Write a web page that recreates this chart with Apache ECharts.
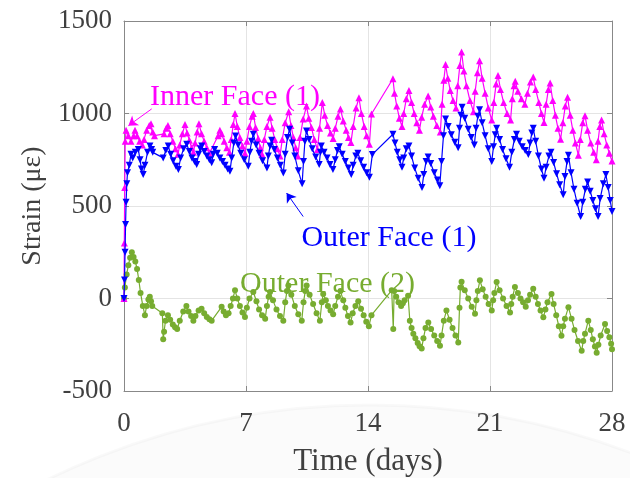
<!DOCTYPE html>
<html>
<head>
<meta charset="utf-8">
<script src="https://cdn.jsdelivr.net/npm/echarts@6/dist/echarts.min.js"></script>
<style>
  html, body { margin: 0; padding: 0; background: #fff; }
  #chart { width: 630px; height: 478px; }
</style>
</head>
<body>
<div id="chart"></div>
<script>
// Axis ticks
const xTicks = [0, 7, 14, 21, 28];
const yTicks = [-500, 0, 500, 1000, 1500];

// Series names
const seriesNames = ['Inner Face (1)', 'Outer Face (1)', 'Outer Face (2)'];

// [time (days), strain (με)]
const innerFace1 = [
  [0,0],[0.02,300],[0.04,600],[0.07,850],[0.12,910],[0.25,880],[0.4,850],[0.55,880],[0.63,910],[0.75,880],
  [0.9,850],[1.05,830],[1.15,860],[1.3,910],[1.45,935],[1.55,945],[1.65,900],[1.75,880],
  [2.3,890],[2.42,920],[2.52,935],[2.65,890],[2.8,850],[2.95,810],[3.1,780],[3.2,830],[3.35,890],[3.5,940],
  [3.62,895],[3.75,855],[3.88,815],[3.98,790],[4.08,840],[4.2,900],[4.3,945],[4.45,890],[4.6,850],[4.75,815],[4.9,785],
  [5.4,880],[5.5,910],[5.6,890],[5.75,850],[5.9,815],[6.05,790],[6.15,860],[6.27,940],[6.37,1000],[6.5,930],
  [6.65,870],[6.8,825],[6.94,785],[7.05,850],[7.2,930],[7.35,985],[7.42,1000],[7.55,925],[7.7,865],[7.82,815],
  [7.92,780],[8.05,860],[8.2,930],[8.38,980],[8.5,920],[8.65,860],[8.8,810],[8.95,770],[9.08,860],[9.25,950],
  [9.45,1010],[9.58,935],[9.72,870],[9.85,815],[9.97,770],[10.1,870],[10.28,970],[10.47,1040],[10.6,975],[10.75,925],
  [10.92,860],[11.1,805],[11.22,920],[11.38,1060],[11.52,990],[11.68,935],[11.85,895],[12.0,865],[12.12,920],[12.28,985],
  [12.42,1025],[12.58,960],[12.75,910],[12.88,870],[13.02,843],[13.15,930],[13.32,1030],[13.48,1085],[13.62,1000],[13.78,930],
  [13.92,880],[14.08,834],[14.2,997],
  [15.43,1188],[15.52,1110],[15.65,1040],[15.8,975],[15.95,930],[16.05,1000],[16.2,1080],[16.35,1124],[16.5,1060],[16.65,1000],
  [16.8,950],[16.95,910],[17.08,980],[17.25,1050],[17.45,1095],[17.6,1035],[17.75,985],[17.95,935],[18.15,900],[18.25,1050],
  [18.35,1180],[18.45,1265],[18.58,1190],[18.72,1125],[18.88,1070],[19.05,1030],[19.15,1150],[19.27,1260],[19.37,1333],[19.5,1230],
  [19.65,1150],[19.85,1070],[20.05,1010],[20.15,1120],[20.28,1220],[20.4,1285],[20.55,1190],[20.72,1110],[20.9,1030],[21.1,965],
  [21.22,1060],[21.35,1160],[21.46,1206],[21.6,1130],[21.78,1060],[21.98,1000],[22.18,965],[22.28,1080],[22.38,1150],[22.45,1175],
  [22.6,1120],[22.8,1080],[23.0,1050],[23.15,1110],[23.32,1170],[23.48,1197],[23.62,1130],[23.8,1060],[23.95,1000],[24.1,952],
  [24.22,1050],[24.35,1130],[24.45,1165],[24.6,1070],[24.75,990],[24.9,920],[25.05,861],[25.18,950],[25.32,1040],[25.45,1088],
  [25.6,990],[25.75,910],[25.9,840],[26.07,775],[26.18,860],[26.32,950],[26.45,988],[26.6,910],[26.78,840],[26.95,790],
  [27.1,750],[27.2,850],[27.3,930],[27.4,965],[27.55,890],[27.7,830],[27.85,785],[28.0,743]
];

const outerFace1 = [
  [0,0],[0.03,100],[0.06,250],[0.09,400],[0.12,520],[0.16,620],[0.2,680],[0.3,720],[0.4,780],[0.5,760],
  [0.65,790],[0.82,806],[0.92,750],[1.0,700],[1.1,670],[1.2,720],[1.35,790],[1.49,824],[1.58,805],[1.65,790],
  [2.25,760],[2.4,800],[2.54,824],[2.68,780],[2.82,745],[2.98,715],[3.12,697],[3.25,760],[3.42,810],[3.6,834],
  [3.75,795],[3.9,760],[4.05,740],[4.17,725],[4.28,780],[4.38,810],[4.46,824],[4.6,795],[4.75,770],[4.9,750],
  [5.03,734],[5.12,780],[5.2,806],[5.35,785],[5.5,760],[5.65,740],[5.8,720],[5.95,700],[6.08,688],[6.18,760],
  [6.3,840],[6.4,879],[6.55,830],[6.7,785],[6.9,750],[7.13,715],[7.22,790],[7.32,850],[7.42,888],[7.58,830],
  [7.75,785],[7.95,745],[8.2,706],[8.28,770],[8.38,825],[8.47,855],[8.62,805],[8.8,760],[8.97,720],[9.14,679],
  [9.25,780],[9.38,870],[9.5,915],[9.65,840],[9.8,770],[10.0,690],[10.22,620],[10.3,740],[10.38,850],[10.47,906],
  [10.62,860],[10.8,810],[11.0,765],[11.2,725],[11.27,790],[11.32,824],[11.48,790],[11.65,760],[11.82,725],[11.99,697],
  [12.12,750],[12.25,800],[12.35,820],[12.52,780],[12.7,740],[12.87,705],[13.04,670],[13.15,720],[13.3,770],[13.42,785],
  [13.58,745],[13.75,710],[13.92,680],[14.08,655],[14.25,779],
  [15.43,888],[15.55,840],[15.68,790],[15.82,750],[15.95,710],[16.05,760],[16.2,810],[16.35,825],[16.5,770],[16.68,705],
  [16.88,650],[17.1,600],[17.2,670],[17.33,740],[17.45,765],[17.6,730],[17.8,680],[17.98,640],[18.12,610],[18.22,740],
  [18.33,880],[18.45,970],[18.6,930],[18.78,885],[18.98,845],[19.17,815],[19.25,920],[19.33,990],[19.4,1034],[19.55,975],
  [19.75,915],[19.92,870],[20.1,830],[20.2,920],[20.3,985],[20.4,1020],[20.55,950],[20.72,880],[20.9,810],[21.1,740],
  [21.2,820],[21.3,885],[21.38,920],[21.55,860],[21.72,805],[21.92,755],[22.12,710],[22.25,790],[22.4,860],[22.52,888],
  [22.68,850],[22.85,820],[23.02,800],[23.2,779],[23.3,840],[23.4,895],[23.48,920],[23.62,850],[23.78,770],[23.95,700],
  [24.1,650],[24.22,710],[24.38,770],[24.5,790],[24.65,735],[24.82,675],[25.0,615],[25.2,561],[25.3,660],[25.42,740],
  [25.5,775],[25.65,680],[25.82,590],[26.0,515],[26.2,443],[26.32,520],[26.47,590],[26.6,630],[26.75,580],[26.9,530],
  [27.05,485],[27.2,443],[27.32,540],[27.5,620],[27.65,670],[27.78,600],[27.9,530],[28.0,470]
];

const outerFace2 = [
  [0,0],[0.05,60],[0.15,130],[0.25,180],[0.35,220],[0.45,250],[0.55,225],[0.65,200],[0.75,160],[0.85,100],
  [0.95,30],[1.08,-40],[1.2,-90],[1.3,-40],[1.4,-5],[1.48,10],[1.55,-15],[1.62,-40],
  [2.2,-80],[2.25,-220],[2.3,-180],[2.38,-120],[2.52,-90],[2.65,-115],[2.8,-140],[2.93,-155],[3.05,-165],[3.2,-120],
  [3.4,-70],[3.58,-40],[3.7,-70],[3.85,-95],[3.98,-120],[4.1,-95],[4.28,-65],[4.45,-55],[4.6,-80],[4.75,-100],
  [4.9,-112],[5.03,-120],
  [5.6,-45],[5.72,-70],[5.85,-90],[6.0,-80],[6.12,-40],[6.25,0],[6.37,45],[6.5,0],[6.65,-40],[6.8,-75],
  [6.94,-100],[7.05,-50],[7.2,0],[7.42,35],[7.6,-15],[7.75,-60],[7.92,-90],[8.1,-110],[8.2,-40],[8.3,10],
  [8.38,35],[8.55,-10],[8.75,-60],[8.95,-95],[9.14,-120],[9.25,-20],[9.35,40],[9.43,70],[9.6,20],[9.8,-40],
  [10.0,-85],[10.2,-120],[10.3,-20],[10.4,40],[10.48,70],[10.65,20],[10.85,-30],[11.05,-80],[11.24,-120],[11.35,-20],
  [11.43,25],[11.58,-10],[11.7,-40],[11.85,-65],[12.0,-85],[12.12,-40],[12.28,10],[12.42,40],[12.58,-10],[12.7,-50],
  [12.85,-95],[13.0,-130],[13.12,-80],[13.28,-40],[13.44,-15],[13.6,-55],[13.75,-90],[13.9,-125],[14.05,-150],[14.2,-90],
  [15.36,44],[15.45,-165],[15.5,40],[15.62,10],[15.75,-20],[15.9,-40],[16.0,-25],[16.1,-10],[16.3,15],[16.4,-120],
  [16.5,-160],[16.6,-190],[16.72,-215],[16.85,-240],[16.96,-258],[17.08,-270],[17.18,-215],[17.3,-160],[17.46,-130],[17.62,-165],
  [17.8,-200],[17.97,-230],[18.13,-256],[18.22,-200],[18.35,-120],[18.5,-65],[18.68,-115],[18.85,-160],[19.02,-200],[19.18,-238],
  [19.25,-50],[19.3,60],[19.37,90],[19.55,45],[19.75,0],[19.95,-45],[20.14,-83],[20.22,-10],[20.3,40],[20.42,98],
  [20.58,50],[20.75,10],[20.92,-30],[21.1,-65],[21.18,-10],[21.25,30],[21.38,89],[21.55,45],[21.75,0],[21.95,-40],
  [22.15,-75],[22.22,-30],[22.3,10],[22.43,62],[22.6,30],[22.75,0],[22.9,-20],[23.05,-45],[23.18,-10],[23.3,20],
  [23.48,53],[23.62,10],[23.75,-30],[23.9,-65],[24.06,-102],[24.18,-60],[24.3,-20],[24.53,25],[24.65,-30],[24.8,-90],
  [24.95,-150],[25.1,-202],[25.2,-150],[25.3,-110],[25.5,-47],[25.68,-110],[25.85,-170],[26.05,-230],[26.26,-283],[26.35,-230],
  [26.45,-190],[26.64,-120],[26.78,-170],[26.9,-220],[27.02,-260],[27.12,-293],[27.22,-250],[27.35,-200],[27.6,-138],[27.72,-175],
  [27.85,-210],[27.95,-245],[28.0,-274]
];

const colors = ['#ff00ff', '#0000ff', '#77ac30'];
const serif = '"Liberation Serif", "Times New Roman", serif';
const textColor = '#404040';

// Text callouts: label position, arrow start, arrow end (data coordinates)
const calloutInner = { at: [6.37, 1090], from: [1.59, 1025], to: [0.25, 934] };
const calloutOuter1 = { at: [15.2, 328], from: [10.28, 443], to: [9.33, 570] };
const calloutOuter2 = { at: [11.68, 80] };

function callout(text, color, c) {
  return {
    silent: true,
    symbol: 'circle',
    symbolSize: 0,
    label: {
      show: true, position: 'inside', formatter: text,
      color: color, fontFamily: serif, fontSize: 30
    },
    data: [{ coord: c.at }]
  };
}
function arrow(color, c) {
  return {
    silent: true,
    animation: false,
    symbol: ['none', 'arrow'],
    symbolSize: 9,
    label: { show: false },
    lineStyle: { color: color, width: 1, type: 'solid' },
    data: [[{ coord: c.from }, { coord: c.to }]]
  };
}

const frameColor = '#888888';
const chart = echarts.init(document.getElementById('chart'), null, { renderer: 'canvas' });

const axisCommon = {
  type: 'value',
  axisLine: { show: true, onZero: false, lineStyle: { color: frameColor, width: 1 } },
  axisTick: { show: true, inside: true, length: 5, lineStyle: { color: frameColor } }
};

chart.setOption({
  animation: false,
  backgroundColor: '#ffffff',
  graphic: [{
    // faint round seal behind the lower part of the figure
    type: 'circle', z: -10, silent: true,
    shape: { cx: 370, cy: 1140, r: 735 },
    style: { fill: 'rgba(0,0,0,0.016)', stroke: 'rgba(0,0,0,0.025)', lineWidth: 3 }
  }],
  grid: { left: 124, right: 18, top: 21, bottom: 87, containLabel: false, outerBoundsMode: 'none' },
  xAxis: [
    Object.assign({}, axisCommon, {
      min: xTicks[0], max: xTicks[xTicks.length - 1], interval: 7,
      name: 'Time (days)', nameLocation: 'middle', nameGap: 55,
      nameTextStyle: { fontFamily: serif, fontSize: 31, color: textColor },
      axisLabel: { fontFamily: serif, fontSize: 27, color: textColor, margin: 19 },
      splitLine: { show: true, lineStyle: { color: '#e4e4e4', width: 1 } }
    }),
    Object.assign({}, axisCommon, {
      position: 'top', min: xTicks[0], max: xTicks[xTicks.length - 1], interval: 7,
      axisLabel: { show: false }, splitLine: { show: false }
    })
  ],
  yAxis: [
    Object.assign({}, axisCommon, {
      min: yTicks[0], max: yTicks[yTicks.length - 1], interval: 500,
      name: 'Strain (με)', nameLocation: 'middle', nameGap: 70,
      nameTextStyle: { fontFamily: serif, fontSize: 28, color: textColor },
      axisLabel: {
        fontFamily: serif, fontSize: 27, color: textColor, margin: 12,
        formatter: v => String(v)
      },
      splitLine: { show: true, lineStyle: { color: '#e4e4e4', width: 1 } }
    }),
    Object.assign({}, axisCommon, {
      position: 'right', min: yTicks[0], max: yTicks[yTicks.length - 1], interval: 500,
      axisLabel: { show: false }, splitLine: { show: false }
    })
  ],
  series: [
    {
      name: seriesNames[2], type: 'line', data: outerFace2,
      symbol: 'circle', symbolSize: 6, showAllSymbol: true,
      lineStyle: { color: colors[2], width: 1.2 },
      itemStyle: { color: colors[2] },
      markPoint: callout(seriesNames[2], colors[2], calloutOuter2),
      z: 2
    },
    {
      name: seriesNames[1], type: 'line', data: outerFace1,
      symbol: 'triangle', symbolRotate: 180, symbolSize: 7, showAllSymbol: true,
      lineStyle: { color: colors[1], width: 1.2 },
      itemStyle: { color: colors[1] },
      markPoint: callout(seriesNames[1], colors[1], calloutOuter1),
      markLine: arrow(colors[1], calloutOuter1),
      z: 3
    },
    {
      name: seriesNames[0], type: 'line', data: innerFace1,
      symbol: 'triangle', symbolSize: 7, showAllSymbol: true,
      lineStyle: { color: colors[0], width: 1.2 },
      itemStyle: { color: colors[0] },
      markPoint: callout(seriesNames[0], colors[0], calloutInner),
      markLine: arrow(colors[0], calloutInner),
      z: 2
    }
  ]
});
</script>
</body>
</html>
